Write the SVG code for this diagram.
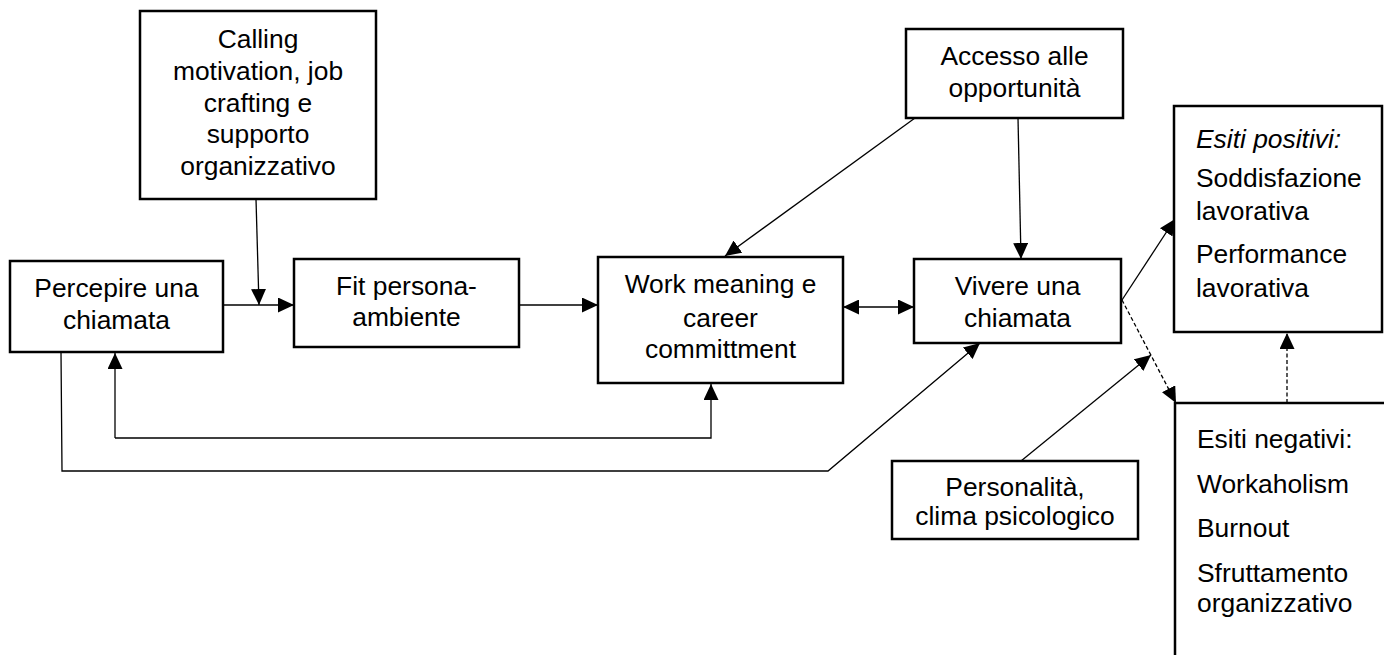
<svg xmlns="http://www.w3.org/2000/svg" width="1384" height="655" viewBox="0 0 1384 655">
  <style>
    .box { fill: #fff; stroke: #000; stroke-width: 2.5; }
    .lbl { font-family: "Liberation Sans", Arial, sans-serif; font-size: 26.4px; fill: #000; }
    .c { text-anchor: middle; }
    .it { font-style: italic; }
    .ln { fill: none; stroke: #000; stroke-width: 1.3; }
    .dash { stroke-dasharray: 4 2.5; }
  </style>
  <defs>
    <marker id="ah" markerUnits="userSpaceOnUse" markerWidth="16" markerHeight="15" refX="16" refY="7.5" orient="auto-start-reverse">
      <path d="M0,0 L16,7.5 L0,15 z" fill="#000"/>
    </marker>
  </defs>
  <rect width="1384" height="655" fill="#fff"/>

  <!-- connectors -->
  <g id="connectors">
    <line class="ln" x1="256" y1="199" x2="259" y2="305" marker-end="url(#ah)"/>
    <line class="ln" x1="223" y1="305" x2="294" y2="305" marker-end="url(#ah)"/>
    <line class="ln" x1="519" y1="305" x2="598" y2="305" marker-end="url(#ah)"/>
    <line class="ln" x1="843" y1="307" x2="914" y2="307" marker-start="url(#ah)" marker-end="url(#ah)"/>
    <line class="ln" x1="915" y1="118" x2="725" y2="256" marker-end="url(#ah)"/>
    <line class="ln" x1="1018" y1="118" x2="1021" y2="259" marker-end="url(#ah)"/>
    <polyline class="ln" points="115,438 115,353" marker-end="url(#ah)"/>
    <polyline class="ln" points="115,438 711,438 711,384" marker-end="url(#ah)"/>
    <polyline class="ln" points="61,352 62,471 828,471 980,343" marker-end="url(#ah)"/>
    <line class="ln" x1="1021" y1="461" x2="1151" y2="355" marker-end="url(#ah)"/>
    <line class="ln" x1="1122" y1="300" x2="1175" y2="219" marker-end="url(#ah)"/>
    <line class="ln dash" x1="1122" y1="300" x2="1176" y2="403" marker-end="url(#ah)"/>
    <line class="ln dash" x1="1287" y1="403" x2="1287" y2="333" marker-end="url(#ah)"/>
  </g>

  <!-- nodes -->
  <g id="calling">
    <rect class="box" x="140" y="11" width="236" height="188"/>
    <text class="lbl c" x="258" y="48">Calling</text>
    <text class="lbl c" x="258" y="80">motivation, job</text>
    <text class="lbl c" x="258" y="112">crafting e</text>
    <text class="lbl c" x="258" y="143">supporto</text>
    <text class="lbl c" x="258" y="175">organizzativo</text>
  </g>
  <g id="percepire">
    <rect class="box" x="10" y="261" width="213" height="91"/>
    <text class="lbl c" x="116.5" y="297">Percepire una</text>
    <text class="lbl c" x="116.5" y="329">chiamata</text>
  </g>
  <g id="fit">
    <rect class="box" x="294" y="259" width="225" height="88"/>
    <text class="lbl c" x="406.5" y="295">Fit persona-</text>
    <text class="lbl c" x="406.5" y="326">ambiente</text>
  </g>
  <g id="work">
    <rect class="box" x="598" y="257" width="245" height="126"/>
    <text class="lbl c" x="720.5" y="293">Work meaning e</text>
    <text class="lbl c" x="720.5" y="327">career</text>
    <text class="lbl c" x="720.5" y="358">committment</text>
  </g>
  <g id="accesso">
    <rect class="box" x="906" y="29" width="217" height="89"/>
    <text class="lbl c" x="1014.5" y="65">Accesso alle</text>
    <text class="lbl c" x="1014.5" y="97">opportunità</text>
  </g>
  <g id="vivere">
    <rect class="box" x="914" y="259" width="207" height="84"/>
    <text class="lbl c" x="1017.5" y="295">Vivere una</text>
    <text class="lbl c" x="1017.5" y="327">chiamata</text>
  </g>
  <g id="personalita">
    <rect class="box" x="892" y="461" width="246" height="78"/>
    <text class="lbl c" x="1015" y="496">Personalità,</text>
    <text class="lbl c" x="1015" y="525">clima psicologico</text>
  </g>
  <g id="esiti-positivi">
    <rect class="box" x="1174" y="106" width="208" height="226"/>
    <text class="lbl it" x="1196" y="148">Esiti positivi:</text>
    <text class="lbl" x="1196" y="187">Soddisfazione</text>
    <text class="lbl" x="1196" y="220">lavorativa</text>
    <text class="lbl" x="1196" y="263">Performance</text>
    <text class="lbl" x="1196" y="297">lavorativa</text>
  </g>
  <g id="esiti-negativi">
    <rect class="box" x="1175" y="403" width="230" height="280"/>
    <text class="lbl" x="1197" y="448">Esiti negativi:</text>
    <text class="lbl" x="1197" y="493">Workaholism</text>
    <text class="lbl" x="1197" y="537">Burnout</text>
    <text class="lbl" x="1197" y="582">Sfruttamento</text>
    <text class="lbl" x="1197" y="612">organizzativo</text>
  </g>
</svg>
